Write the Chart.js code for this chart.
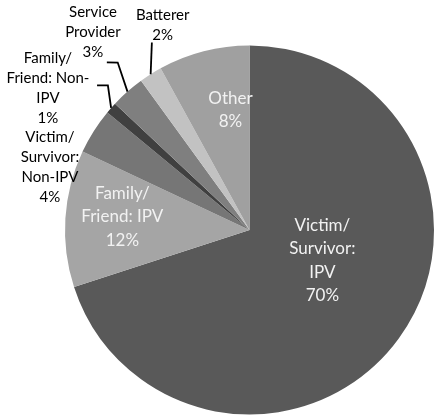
<!DOCTYPE html>
<html>
<head>
<meta charset="utf-8">
<script src="https://cdn.jsdelivr.net/npm/chart.js@4"></script>
<style>
  html, body { margin: 0; padding: 0; background: #ffffff; }
  canvas { display: block; }
</style>
</head>
<body>
<canvas id="pie" width="434" height="415"></canvas>
<script>
// Caller categories, each split into the lines shown on its label
const categories = [
  ['Victim/', 'Survivor:', 'IPV'],
  ['Family/', 'Friend: IPV'],
  ['Victim/', 'Survivor:', 'Non-IPV'],
  ['Family/', 'Friend: Non-', 'IPV'],
  ['Service', 'Provider'],
  ['Batterer'],
  ['Other']
];

// Share of calls, percent
const shares = [70, 12, 4, 1, 3, 2, 8];

const sliceColors = ['#595959', '#a5a5a5', '#767676', '#404040', '#7f7f7f', '#c2c2c2', '#a0a0a0'];

// Where each label sits: angle in degrees clockwise from 12 o'clock,
// distance as a fraction of the pie radius; leader elbows use the same form
const labelPlacement = [
  { inside: true,  angle: 112.7, dist: 0.428 },
  { inside: true,  angle: 276.0, dist: 0.693 },
  { inside: false, angle: 287.5, dist: 1.134 },
  { inside: false, angle: 305.1, dist: 1.335, leader: [[313.5, 1.139], [315.6, 1.097]] },
  { inside: false, angle: 321.6, dist: 1.366, leader: [[319.6, 1.193], [321.8, 1.155]] },
  { inside: false, angle: 337.0, dist: 1.204, leader: [[332.5, 1.146]] },
  { inside: true,  angle: 351.0, dist: 0.659 }
];

const FONT_FAMILY = 'Lato, "Open Sans", sans-serif';

function polar(cx, cy, r, deg, f) {
  const a = deg * Math.PI / 180;
  return [cx + Math.sin(a) * r * f, cy - Math.cos(a) * r * f];
}

const sliceLabels = {
  id: 'sliceLabels',
  afterDatasetsDraw(chart) {
    const ctx = chart.ctx;
    const arcs = chart.getDatasetMeta(0).data;
    ctx.save();
    arcs.forEach((arc, i) => {
      const p = labelPlacement[i];
      const { x: cx, y: cy, outerRadius: R, startAngle, endAngle } = arc.getProps(['x', 'y', 'outerRadius', 'startAngle', 'endAngle'], true);
      const lines = categories[i].concat([shares[i] + '%']);
      const lineH = p.inside ? 23.5 : 20;
      ctx.font = (p.inside ? '17px ' : '15px ') + FONT_FAMILY;
      ctx.fillStyle = p.inside ? '#f2f2f2' : '#000000';
      ctx.textAlign = 'center';
      ctx.textBaseline = 'middle';
      const [tx, ty] = polar(cx, cy, R, p.angle, p.dist);
      const top = ty - (lines.length - 1) * lineH / 2;
      lines.forEach((ln, k) => ctx.fillText(ln, tx, top + k * lineH));

      if (p.leader) {
        const mid = (startAngle + endAngle) / 2;
        ctx.beginPath();
        ctx.strokeStyle = '#000000';
        ctx.lineWidth = 1.8;
        p.leader.forEach(([deg, f], k) => {
          const [lx, ly] = polar(cx, cy, R, deg, f);
          if (k === 0) ctx.moveTo(lx, ly); else ctx.lineTo(lx, ly);
        });
        ctx.lineTo(cx + Math.cos(mid) * R, cy + Math.sin(mid) * R);
        ctx.stroke();
      }
    });
    ctx.restore();
  }
};

new Chart(document.getElementById('pie'), {
  type: 'pie',
  data: {
    labels: categories,
    datasets: [{
      data: shares,
      backgroundColor: sliceColors,
      borderWidth: 0
    }]
  },
  options: {
    responsive: false,
    animation: false,
    layout: { padding: { left: 65, top: 45, right: 0, bottom: 0 } },
    plugins: {
      legend: { display: false },
      tooltip: { enabled: false }
    }
  },
  plugins: [sliceLabels]
});
</script>
</body>
</html>
